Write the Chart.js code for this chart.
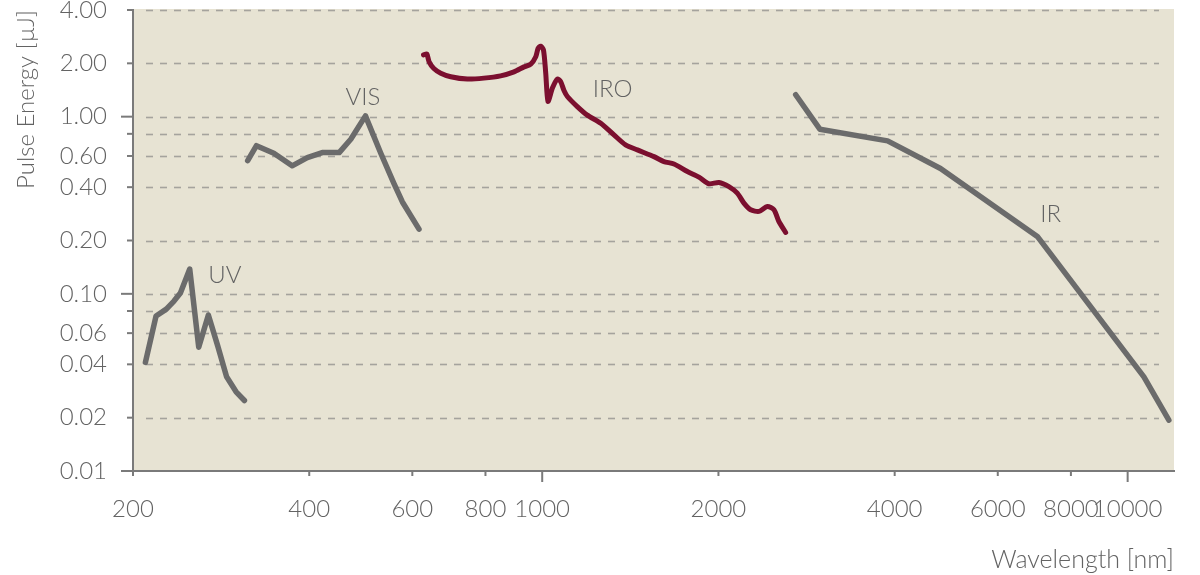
<!DOCTYPE html>
<html><head><meta charset="utf-8">
<script src="https://cdn.jsdelivr.net/npm/chart.js@4"></script>
<style>html,body{margin:0;padding:0;background:#fff;}#wrap{width:1200px;height:575px;}</style>
</head><body><div id="wrap"><canvas id="c" width="1200" height="575"></canvas></div>
<script>
// ---- data (wavelength nm, pulse energy µJ) ----
const uvX = [210, 219, 228, 235, 241, 250, 259, 269, 279, 289, 300, 310];
const uvY = [0.041, 0.075, 0.082, 0.091, 0.101, 0.138, 0.050, 0.076, 0.051, 0.034, 0.028, 0.025];

const visX = [314, 325, 348, 374, 397, 421, 450, 471, 499, 530, 558, 577, 616];
const visY = [0.565, 0.686, 0.622, 0.528, 0.587, 0.627, 0.627, 0.746, 1.01, 0.622, 0.42, 0.33, 0.232];

const iroX = [627, 635, 641, 653, 671, 698, 745, 795, 849, 895, 931, 956, 975, 984, 994, 1005, 1014, 1023, 1041, 1061,
              1075, 1089, 1104, 1148, 1194, 1259, 1326, 1388, 1454, 1552, 1614, 1679, 1770, 1852, 1926, 2004, 2084, 2154, 2211, 2270,
              2346, 2424, 2488, 2537, 2605];
const iroY = [2.23, 2.26, 2.04, 1.87, 1.76, 1.68, 1.63, 1.65, 1.70, 1.79, 1.91, 1.98, 2.18, 2.43, 2.50, 2.38, 1.76, 1.22, 1.45, 1.63,
              1.58, 1.41, 1.30, 1.14, 1.02, 0.918, 0.789, 0.693, 0.649, 0.595, 0.558, 0.541, 0.49, 0.456, 0.418, 0.425, 0.403, 0.37, 0.325, 0.298,
              0.292, 0.311, 0.298, 0.256, 0.222];

const irX = [2710, 2980, 3890, 4790, 7010, 10660, 11760];
const irY = [1.33, 0.85, 0.73, 0.51, 0.211, 0.034, 0.0194];

const seriesNames = ['UV', 'VIS', 'IRO', 'IR'];

const xTickValues = [200, 400, 600, 800, 1000, 2000, 4000, 6000, 8000, 10000];
const xMajorTicks = [1000, 10000];
const yTickValues = [0.01, 0.02, 0.04, 0.06, 0.08, 0.1, 0.2, 0.4, 0.6, 0.8, 1, 2, 4];
const yLabelledTicks = [0.01, 0.02, 0.04, 0.06, 0.1, 0.2, 0.4, 0.6, 1, 2, 4];
const yMajorTicks = [0.01, 0.1, 1];

const xTitle = 'Wavelength [nm]';
const yTitle = 'Pulse Energy [µJ]';

// ---- styling ----
const FONT = "Lato, 'Open Sans', sans-serif";
const TEXT = '#636363';
const GREY = '#6b6b6b';
const RED = '#7b0f2f';
const AXIS = '#7a7a7a';
const BG = '#e7e3d3';

const zip = (xs, ys) => xs.map((x, i) => ({x: x, y: ys[i]}));

// label anchors in data coordinates (wavelength, energy)
const seriesLabelAnchors = {UV: [287, 0.128], VIS: [494, 1.29], IRO: [1319, 1.43], IR: [7386, 0.283]};

const decor = {
  id: 'decor',
  beforeDraw(chart) {
    const {ctx, chartArea: a} = chart;
    ctx.save();
    ctx.fillStyle = BG;
    ctx.fillRect(a.left, a.top - 1, a.right - a.left, a.bottom - a.top + 1);
    ctx.restore();
  },
  beforeDatasetsDraw(chart) {
    const {ctx, chartArea: a, scales} = chart;
    const xs = scales.x, ys = scales.y;
    ctx.save();
    // dashed gridlines
    ctx.strokeStyle = '#a5a39d';
    ctx.lineWidth = 1.6;
    ctx.setLineDash([7, 7]);
    yTickValues.forEach(v => {
      if (v === ys.min) return;
      const y = Math.round(ys.getPixelForValue(v)) + 0.5;
      ctx.beginPath();
      ctx.moveTo(a.left + 13, y);
      ctx.lineTo(a.right - 15, y);
      ctx.stroke();
    });
    ctx.setLineDash([]);
    // tick marks
    ctx.strokeStyle = AXIS;
    ctx.lineWidth = 2;
    yTickValues.forEach(v => {
      const y = ys.getPixelForValue(v);
      const len = yMajorTicks.includes(v) ? 12 : 6;
      ctx.beginPath();
      ctx.moveTo(a.left - len, y);
      ctx.lineTo(a.left, y);
      ctx.stroke();
    });
    xTickValues.forEach(v => {
      const x = xs.getPixelForValue(v);
      const len = xMajorTicks.includes(v) ? 11 : 5;
      ctx.beginPath();
      ctx.moveTo(x, a.bottom);
      ctx.lineTo(x, a.bottom + len);
      ctx.stroke();
    });
    ctx.restore();
  },
  afterDatasetsDraw(chart) {
    const {ctx, scales} = chart;
    ctx.save();
    ctx.fillStyle = TEXT;
    ctx.font = "300 24px " + FONT;
    ctx.textAlign = 'center';
    ctx.textBaseline = 'middle';
    seriesNames.forEach(n => {
      const p = seriesLabelAnchors[n];
      ctx.fillText(n, scales.x.getPixelForValue(p[0]), scales.y.getPixelForValue(p[1]));
    });
    ctx.restore();
  }
};

const lineDs = (label, xs, ys, color, w) => ({
  label: label,
  data: zip(xs, ys),
  borderColor: color,
  backgroundColor: color,
  borderWidth: w,
  pointRadius: 0,
  pointHoverRadius: 0,
  tension: 0,
  borderJoinStyle: 'round',
  borderCapStyle: 'round',
  fill: false
});

new Chart(document.getElementById('c'), {
  type: 'line',
  data: {
    datasets: [
      lineDs(seriesNames[0], uvX, uvY, GREY, 5.5),
      lineDs(seriesNames[1], visX, visY, GREY, 5.5),
      Object.assign(lineDs(seriesNames[2], iroX, iroY, RED, 5), {tension: 0.25}),
      lineDs(seriesNames[3], irX, irY, GREY, 5.5)
    ]
  },
  options: {
    responsive: false,
    animation: false,
    devicePixelRatio: 1,
    layout: {padding: {left: 0, right: 26, top: 10, bottom: 0}},
    plugins: {legend: {display: false}, tooltip: {enabled: false}},
    events: [],
    scales: {
      x: {
        type: 'logarithmic',
        position: 'bottom',
        min: 200,
        max: 12000,
        afterBuildTicks: s => { s.ticks = xTickValues.map(v => ({value: v})); },
        afterFit: s => { s.height = 104; s.paddingLeft = 0; s.paddingRight = 0; },
        ticks: {
          autoSkip: false, maxRotation: 0, minRotation: 0,
          callback: v => String(v),
          font: {family: FONT, size: 24, weight: '300', lineHeight: 1.2},
          color: TEXT, padding: 12
        },
        grid: {display: true, drawOnChartArea: false, drawTicks: true, tickLength: 12, tickColor: 'rgba(0,0,0,0)'},
        border: {display: true, color: AXIS, width: 2},
        title: {display: true, text: xTitle, align: 'end', color: TEXT,
                font: {family: FONT, size: 25, weight: '300', lineHeight: 1.2}, padding: {top: 0, bottom: 0}}
      },
      y: {
        type: 'logarithmic',
        position: 'left',
        min: 0.01,
        max: 4,
        afterBuildTicks: s => { s.ticks = yTickValues.map(v => ({value: v})); },
        afterFit: s => { s.width = 133; s.paddingTop = 0; s.paddingBottom = 0; },
        ticks: {
          autoSkip: false,
          callback: v => yLabelledTicks.includes(v) ? v.toFixed(2) : '',
          font: {family: FONT, size: 24, weight: '300', lineHeight: 1.2}, color: TEXT, padding: 14
        },
        grid: {display: true, drawOnChartArea: false, drawTicks: true, tickLength: 12, tickColor: 'rgba(0,0,0,0)'},
        border: {display: true, color: AXIS, width: 2},
        title: {display: true, text: yTitle, align: 'end', color: TEXT,
                font: {family: FONT, size: 24, weight: '300', lineHeight: 1.2}, padding: {top: 12, bottom: 0}}
      }
    }
  },
  plugins: [decor]
});
</script>
</body></html>
